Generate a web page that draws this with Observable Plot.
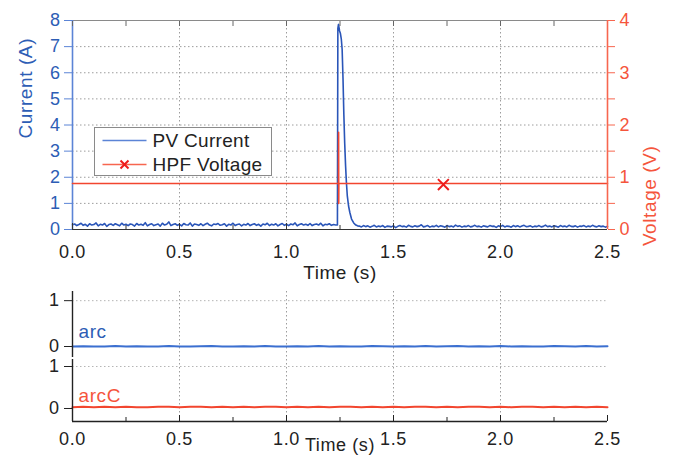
<!DOCTYPE html>
<html><head><meta charset="utf-8">
<script src="https://cdn.jsdelivr.net/npm/d3@7"></script>
<script src="https://cdn.jsdelivr.net/npm/@observablehq/plot@0.6"></script>
<style>
body{margin:0;background:#fff;}
#wrap{position:relative;width:673px;height:456px;overflow:hidden;background:#fff;font-family:"Liberation Sans",Arial,sans-serif;}
.layer{position:absolute;left:0;}
</style></head><body><div id="wrap"></div>
<script>
// ---------- data ----------
const preStart = 0, preStep = 0.01;
const preCurrent = [
0.18,0.21,0.15,0.19,0.24,0.16,0.2,0.13,0.22,0.17,
0.19,0.25,0.14,0.2,0.17,0.23,0.12,0.19,0.21,0.16,
0.22,0.18,0.14,0.24,0.17,0.2,0.15,0.21,0.19,0.13,
0.23,0.17,0.2,0.16,0.26,0.14,0.19,0.22,0.15,0.18,
0.21,0.13,0.24,0.17,0.2,0.29,0.15,0.19,0.22,0.16,
0.2,0.14,0.23,0.18,0.17,0.25,0.13,0.21,0.19,0.16,
0.22,0.15,0.2,0.24,0.17,0.14,0.21,0.19,0.23,0.16,
0.18,0.22,0.13,0.2,0.17,0.24,0.15,0.19,0.21,0.14,
0.2,0.17,0.23,0.15,0.19,0.22,0.16,0.2,0.13,0.21,
0.18,0.24,0.15,0.2,0.17,0.22,0.14,0.19,0.23,0.16,
0.2,0.15,0.21,0.18,0.25,0.14,0.19,0.22,0.17,0.2,
0.16,0.23,0.15,0.19,0.21,0.17,0.24,0.14,0.2,0.18,
0.22,0.16,0.19,0.17];
const spikeTime    = [1.238,1.240,1.243,1.248,1.252,1.256,1.260,1.264,1.268,1.272,1.276,1.280,1.284,1.290,1.296,1.304,1.314,1.324,1.332];
const spikeCurrent = [0.17, 7.70, 7.85, 7.60, 7.50, 7.30, 6.90, 5.80, 4.40, 3.30, 2.45, 1.80, 1.30, 0.90, 0.65, 0.40, 0.25, 0.17, 0.14];
const postStart = 1.34, postStep = 0.01;
const postCurrent = [
0.13,0.1,0.15,0.11,0.14,0.09,0.12,0.16,0.1,0.13,
0.11,0.15,0.08,0.13,0.12,0.1,0.14,0.07,0.12,0.15,
0.11,0.13,0.09,0.16,0.12,0.1,0.14,0.11,0.13,0.18,
0.1,0.12,0.15,0.09,0.13,0.11,0.16,0.1,0.14,0.12,
0.09,0.15,0.11,0.13,0.1,0.17,0.12,0.14,0.09,0.13,
0.11,0.15,0.1,0.12,0.16,0.11,0.13,0.09,0.14,0.12,
0.1,0.15,0.12,0.13,0.08,0.14,0.11,0.16,0.1,0.13,
0.12,0.09,0.15,0.11,0.14,0.1,0.13,0.16,0.11,0.12,
0.14,0.09,0.13,0.11,0.15,0.1,0.12,0.17,0.11,0.13,
0.1,0.14,0.12,0.09,0.15,0.11,0.13,0.1,0.16,0.12,
0.11,0.14,0.09,0.13,0.12,0.15,0.1,0.13,0.11,0.16,
0.12,0.1,0.14,0.11,0.13,0.09,0.12];
const voltageTime  = [0, 1.2430, 1.2435, 1.2440, 1.2446, 2.5];
const voltageValue = [0.88, 0.88, 1.86, 0.50, 0.88, 0.88];
const markerTime = [1.733], markerVoltage = [0.86];
const arcStep = 0.05;
const arcValues  = [0,0.005,0,0,0.01,0,0.005,0,0,0.01,0,0,0.005,0.01,0,0,0.005,0,0.01,0,0,0.005,0,0.01,0,0.005,0,0,0.01,0.005,0,0.005,0,0.01,0,0.005,0.01,0,0.005,0,0.01,0,0.005,0,0,0.01,0.005,0,0.01,0,0.005];
const arcCValues = [0.03,0.04,0.03,0.04,0.03,0.04,0.03,0.03,0.04,0.04,0.03,0.04,0.04,0.03,0.04,0.03,0.04,0.03,0.04,0.04,0.03,0.04,0.03,0.04,0.03,0.04,0.04,0.03,0.04,0.03,0.04,0.03,0.04,0.04,0.03,0.04,0.03,0.04,0.04,0.03,0.04,0.03,0.04,0.04,0.03,0.04,0.03,0.04,0.03,0.04,0.03];
const xMajor = [0,0.5,1,1.5,2,2.5];
const xMinor = [0.25,0.75,1.25,1.75,2.25];
const xAll   = [0,0.25,0.5,0.75,1,1.25,1.5,1.75,2,2.25,2.5];
const xGrid  = [0.5,1,1.5,2];
const currentTicks = [0,1,2,3,4,5,6,7,8];
const currentGrid  = [1,2,3,4,5,6,7];
const voltageTicks = [0,0.5,1,1.5,2,2.5,3,3.5,4];
const arcTicks = [0,1];
const labels = {x:"Time (s)", current:"Current (A)", voltage:"Voltage (V)", arc:"arc", arcC:"arcC", legend:["PV Current","HPF Voltage"]};

// ---------- tables ----------
const current = [
  ...preCurrent.map((v,i)=>({t: preStart + i*preStep, i: v})),
  ...spikeTime.map((t,k)=>({t, i: spikeCurrent[k]})),
  ...postCurrent.map((v,i)=>({t: postStart + i*postStep, i: v}))
];
const voltage = voltageTime.map((t,k)=>({t, v: voltageValue[k]}));
const marker = markerTime.map((t,k)=>({t, v: markerVoltage[k]}));
const arc = arcValues.map((v,i)=>({t: i*arcStep, v}));
const arcC = arcCValues.map((v,i)=>({t: i*arcStep, v}));

// ---------- styles ----------
const blueLine = "#2a55b8", blueAxis = "#5b84d6", blueText = "#2d5db5";
const redLine = "#f2462f", redAxis = "#f7664f", redText = "#f5553c", redMark = "#ee1c1c";
const gridStyle = {stroke:"#9c9c9c", strokeOpacity:1, strokeDasharray:"1.5,2.5"};
const font = {fontFamily:'"Liberation Sans", Arial, sans-serif', fontSize:"18px", letterSpacing:"0.6px", background:"none", overflow:"visible"};
const W = 673, ML = 72, MR = 66;
const xScale = {domain:[0,2.5], label:null};

const wrap = document.getElementById("wrap");
function place(node, top){ const d = document.createElement("div"); d.className="layer"; d.style.top = top+"px"; d.appendChild(node); wrap.appendChild(d); }

// ---------- top: current ----------
const top1 = Plot.plot({
  width: W, height: 290, marginLeft: ML, marginRight: MR, marginTop: 20, marginBottom: 61,
  style: font,
  x: xScale,
  y: {domain:[0,8], label:null},
  marks: [
    Plot.gridX(xGrid, gridStyle),
    Plot.gridY(currentGrid, gridStyle),
    Plot.ruleY([8], {stroke:"#8a8a8a", strokeWidth:1.2}),
    Plot.line(current, {x:"t", y:"i", stroke: blueLine, strokeWidth: 1.6}),
    Plot.ruleX([0], {stroke: blueAxis, strokeWidth: 1.6}),
    Plot.ruleY([0], {stroke:"#333", strokeWidth: 1.2}),
    Plot.axisY(currentTicks, {anchor:"left", tickSize:8, tickPadding:4, stroke: blueAxis, fill: blueText, label:null}),
    Plot.axisX(xMajor, {anchor:"bottom", tickSize:0, tickPadding:16, fill:"#222", label:null}),
    Plot.axisX(xMajor, {anchor:"bottom", tickSize:-6, fill:"none", stroke:"#333", label:null}),
    Plot.axisX(xMinor, {anchor:"bottom", tickSize:-4, fill:"none", stroke:"#333", label:null}),
    Plot.axisX(xAll, {anchor:"top", tickSize:-5, fill:"none", stroke:"#666", label:null}),
    Plot.text([labels.current], {text:d=>d, frameAnchor:"left", dx:-47, dy:13.5, rotate:-90, fill: blueText, fontSize:19}),
    Plot.text([labels.x], {text:d=>d, frameAnchor:"bottom", lineAnchor:"top", dy:36, fill:"#222", fontSize:19})
  ]
});
place(top1, 0);

// ---------- top: voltage (overlay, right axis) ----------
const top2 = Plot.plot({
  width: W, height: 290, marginLeft: ML, marginRight: MR, marginTop: 20, marginBottom: 61,
  style: font,
  x: {...xScale, axis:null},
  y: {domain:[0,4], label:null},
  marks: [
    Plot.line(voltage, {x:"t", y:"v", stroke: redLine, strokeWidth: 1.6}),
    Plot.dot(marker, {x:"t", y:"v", symbol:"times", r:5, stroke: redMark, strokeWidth: 2}),
    Plot.ruleX([2.5], {stroke: redAxis, strokeWidth: 1.6}),
    Plot.axisY(voltageTicks, {anchor:"right", tickSize:7, tickPadding:5, stroke: redAxis, fill: redText, tickFormat: d => Number.isInteger(d) ? String(d) : "", label:null}),
    Plot.text([labels.voltage], {text:d=>d, frameAnchor:"right", dx:42, dy:20.5, rotate:-90, fill: redText, fontSize:19})
  ]
});
place(top2, 0);

// ---------- legend ----------
const legend = document.createElement("div");
legend.className = "layer";
legend.style.cssText = "left:94px;top:127px;width:176px;height:47px;border:1.5px solid #8a8a8a;background:#fff;";
legend.innerHTML = `<svg width="176" height="47" style="display:block;font-family:'Liberation Sans',Arial,sans-serif;font-size:19px;letter-spacing:0.3px">
  <line x1="7.5" x2="51.5" y1="12.5" y2="12.5" stroke="${blueAxis}" stroke-width="1.5"/>
  <text x="57.5" y="18.5" fill="#222">${labels.legend[0]}</text>
  <line x1="7.5" x2="51.5" y1="36.5" y2="36.5" stroke="${redAxis}" stroke-width="1.5"/>
  <path d="M25.5,32.5L33.5,40.5M33.5,32.5L25.5,40.5" stroke="${redMark}" stroke-width="2"/>
  <text x="57.5" y="42.5" fill="#222">${labels.legend[1]}</text>
</svg>`;
wrap.appendChild(legend);

// ---------- bottom: arc ----------
const arcDomain = [-0.24, 1.2];
const bot1 = Plot.plot({
  width: W, height: 80, marginLeft: ML, marginRight: MR, marginTop: 10, marginBottom: 4,
  style: font,
  x: {...xScale, axis:null},
  y: {domain: arcDomain, label:null},
  marks: [
    Plot.gridX(xGrid, gridStyle),
    Plot.gridY([1], {...gridStyle, stroke:"#b5b5b5"}),
    Plot.line(arc, {x:"t", y:"v", stroke: "#3b6fd0", strokeWidth: 2}),
    Plot.ruleX([0], {stroke:"#222", strokeWidth:1.4}),
    Plot.axisY(arcTicks, {anchor:"left", tickSize:8, tickPadding:5, stroke:"#222", fill:"#222", label:null}),
    Plot.text([labels.arc], {text:d=>d, frameAnchor:"top-left", textAnchor:"start", lineAnchor:"bottom", dx:6, dy:46, fill: blueText, fontSize:19})
  ]
});
place(bot1, 281);

// ---------- bottom: arcC ----------
const arcCDomain = [-0.31, 1.167];
const bot2 = Plot.plot({
  width: W, height: 107, marginLeft: ML, marginRight: MR, marginTop: 10, marginBottom: 35,
  style: font,
  x: xScale,
  y: {domain: arcCDomain, label:null},
  marks: [
    Plot.gridX(xGrid, gridStyle),
    Plot.gridY([1], {...gridStyle, stroke:"#b5b5b5"}),
    Plot.line(arcC, {x:"t", y:"v", stroke: redLine, strokeWidth: 2}),
    Plot.ruleX([0], {stroke:"#222", strokeWidth:1.4}),
    Plot.ruleY([arcCDomain[0]], {stroke:"#222", strokeWidth:1.4}),
    Plot.axisY(arcTicks, {anchor:"left", tickSize:8, tickPadding:5, stroke:"#222", fill:"#222", label:null}),
    Plot.axisX(xMajor, {anchor:"bottom", tickSize:0, tickPadding:11, fill:"#222", label:null}),
    Plot.axisX(xMajor, {anchor:"bottom", tickSize:-6, fill:"none", stroke:"#222", label:null}),
    Plot.axisX(xMinor, {anchor:"bottom", tickSize:-4, fill:"none", stroke:"#222", label:null}),
    Plot.text([labels.arcC], {text:d=>d, frameAnchor:"top-left", textAnchor:"start", lineAnchor:"bottom", dx:6, dy:42, fill: redText, fontSize:19}),
    Plot.text([labels.x], {text:d=>d, frameAnchor:"bottom", lineAnchor:"top", dy:17, fill:"#222", fontSize:18})
  ]
});
place(bot2, 349);
</script></body></html>
